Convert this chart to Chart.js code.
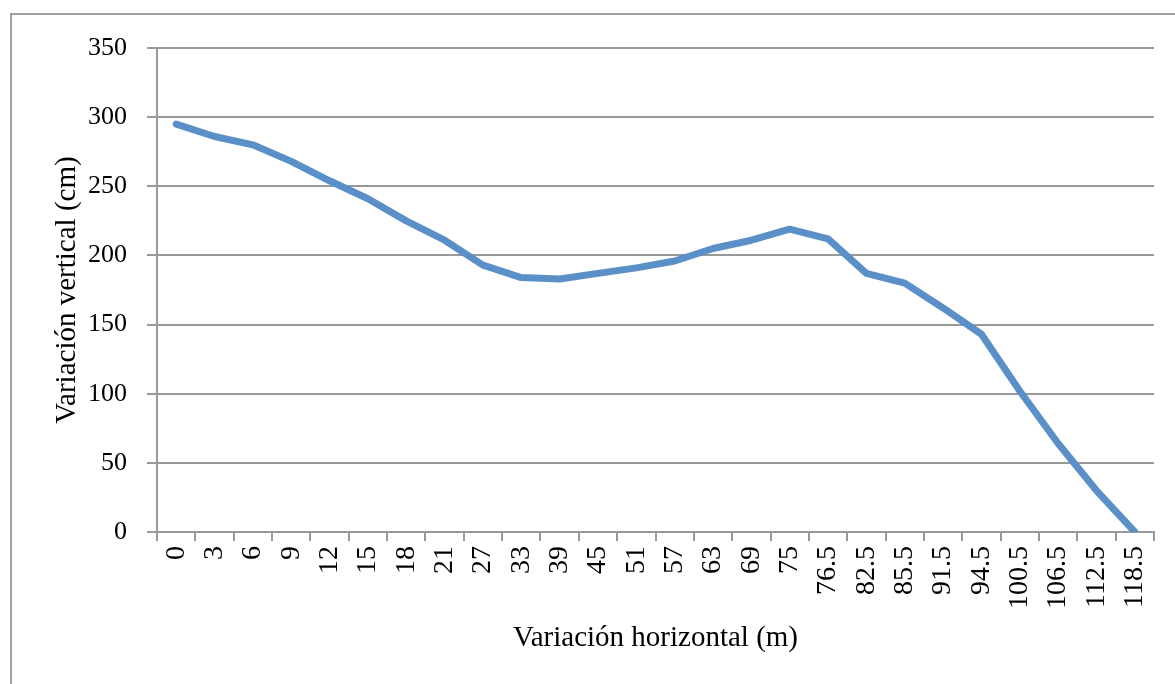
<!DOCTYPE html>
<html>
<head>
<meta charset="utf-8">
<script src="https://cdn.jsdelivr.net/npm/chart.js@4/dist/chart.umd.min.js"></script>
<style>
    body { margin: 0; background: #fff; }
    .frame {
        position: absolute; left: 10px; top: 13px; width: 1180px; height: 700px;
        border-left: 2px solid #a0a0a0; border-top: 2px solid #a0a0a0;
    }
    #chart { position: absolute; left: 0; top: 0; }
</style>
</head>
<body>
<div class="frame"></div>
<canvas id="chart" width="1175" height="684"></canvas>
<script>
// Distancias horizontales (m)
const distancias = ['0', '3', '6', '9', '12', '15', '18', '21', '27', '33', '39', '45', '51', '57',
    '63', '69', '75', '76.5', '82.5', '85.5', '91.5', '94.5', '100.5', '106.5', '112.5', '118.5'];

// Variacion vertical (cm)
const variacionVertical = [295, 286, 280, 268, 254, 241, 225, 211, 193, 184, 183, 187, 191, 196,
    205, 211, 219, 212, 187, 180, 162, 143, 102, 64, 30, 0];

const yTicks = [0, 50, 100, 150, 200, 250, 300, 350];

const serif = 'Liberation Serif';
const gris = '#999';

const ctx = document.getElementById('chart').getContext('2d');
new Chart(ctx, {
    type: 'line',
    data: {
        labels: distancias,
        datasets: [{
            data: variacionVertical,
            borderColor: '#5a8fc8',
            borderWidth: 7,
            borderCapStyle: 'round',
            borderJoinStyle: 'round',
            pointRadius: 0,
            tension: 0,
            fill: false
        }]
    },
    options: {
        responsive: false,
        animation: false,
        layout: { padding: { left: 0, right: 21, top: 48, bottom: 0 } },
        plugins: {
            legend: { display: false },
            tooltip: { enabled: false }
        },
        scales: {
            x: {
                offset: true,
                grid: { display: true, drawOnChartArea: false, drawTicks: true, tickLength: 9, color: gris, lineWidth: 2, offset: true },
                border: { color: gris, width: 2 },
                ticks: {
                    autoSkip: false, maxRotation: 90, minRotation: 90, padding: 5,
                    color: '#000', font: { family: serif, size: 28 }
                },
                title: {
                    display: true, text: 'Variación horizontal (m)', color: '#000',
                    font: { family: serif, size: 29 }, padding: { top: 0, bottom: 28 }
                },
                afterFit: scale => { scale.height = 152; }
            },
            y: {
                min: 0,
                max: 350,
                afterBuildTicks: scale => { scale.ticks = yTicks.map(v => ({ value: v })); },
                grid: { color: gris, lineWidth: 2, tickLength: 10, drawTicks: true },
                border: { color: gris, width: 2 },
                ticks: { padding: 20, color: '#000', font: { family: serif, size: 26 } },
                title: {
                    display: true, text: 'Variación vertical (cm)', color: '#000',
                    font: { family: serif, size: 29 }, padding: { top: 50, bottom: 0 }
                },
                afterFit: scale => { scale.width = 157; }
            }
        }
    }
});
</script>
</body>
</html>
